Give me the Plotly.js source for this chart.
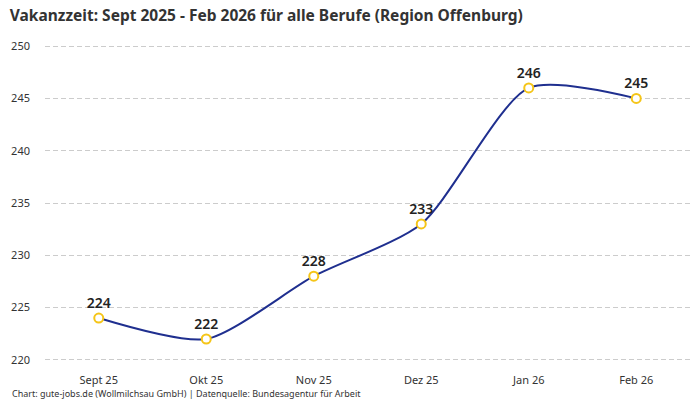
<!DOCTYPE html>
<html>
<head>
<meta charset="utf-8">
<script src="https://cdn.plot.ly/plotly-3.0.1.min.js"></script>
<style>
  html, body { margin: 0; padding: 0; background: #fff; }
  #chart { width: 700px; height: 400px; }
</style>
</head>
<body>
<div id="chart"></div>
<script>
var months = ['Sept 25', 'Okt 25', 'Nov 25', 'Dez 25', 'Jan 26', 'Feb 26'];
var vakanzzeit = [224, 222, 228, 233, 246, 245];
var yTicks = [220, 225, 230, 235, 240, 245, 250];

var fontName = 'Noto Sans, Roboto, sans-serif';

var trace = {
    type: 'scatter',
    mode: 'lines+markers+text',
    x: months,
    y: vakanzzeit,
    text: vakanzzeit.map(String),
    textposition: 'top center',
    textfont: {family: fontName, size: 14, color: '#222', weight: 600},
    line: {color: '#1f2f8f', width: 2, shape: 'spline', smoothing: 0.7},
    marker: {size: 9, color: '#fff', line: {color: '#f5c518', width: 2}},
    cliponaxis: false,
    hoverinfo: 'x+y'
};

var layout = {
    width: 700,
    height: 400,
    margin: {l: 45, r: 10, t: 44, b: 38},
    paper_bgcolor: '#fff',
    plot_bgcolor: '#fff',
    font: {family: fontName, size: 11, color: '#333'},
    showlegend: false,
    title: {
        text: '<b>Vakanzzeit: Sept 2025 - Feb 2026 für alle Berufe (Region Offenburg)</b>',
        x: 0.014, xanchor: 'left', y: 0.975, yanchor: 'top',
        font: {family: fontName, size: 15.5, color: '#333'}
    },
    xaxis: {
        range: [-0.5, 5.5],
        showgrid: false,
        zeroline: false,
        showline: false,
        ticks: '',
        ticklabelstandoff: 10,
        tickfont: {size: 11, color: '#333'}
    },
    yaxis: {
        range: [219.8, 250.2],
        tickvals: yTicks,
        showgrid: true,
        gridcolor: '#cccccc',
        griddash: '5px,3px',
        gridwidth: 1,
        zeroline: false,
        showline: false,
        ticks: '',
        ticklabelstandoff: 14,
        tickfont: {size: 11, color: '#333'}
    },
    annotations: [{
        text: 'Chart: gute-jobs.de (Wollmilchsau GmbH) | Datenquelle: Bundesagentur für Arbeit',
        xref: 'paper', yref: 'paper',
        x: -0.054, y: -0.1, xanchor: 'left', yanchor: 'middle',
        showarrow: false,
        font: {family: fontName, size: 9, color: '#333'}
    }]
};

Plotly.newPlot('chart', [trace], layout, {displayModeBar: false, staticPlot: true});
</script>
</body>
</html>
